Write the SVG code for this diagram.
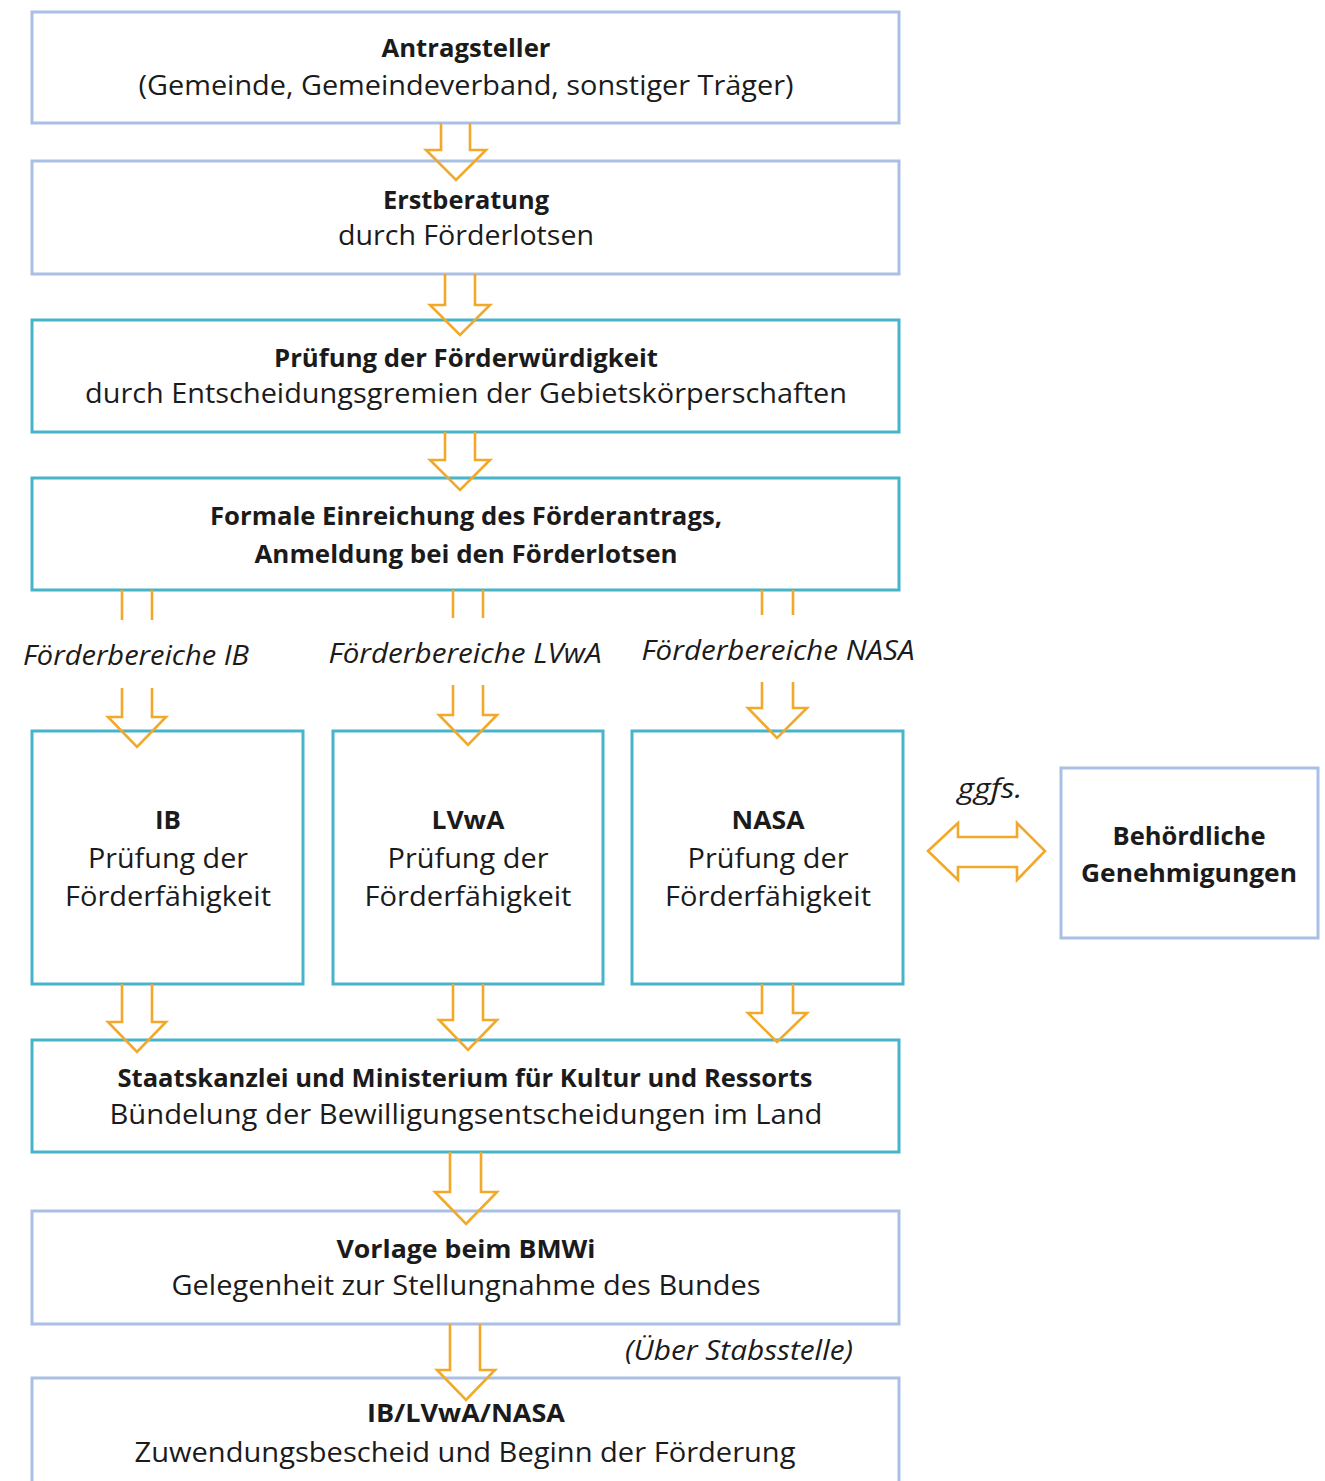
<svg xmlns="http://www.w3.org/2000/svg" width="1325" height="1481" viewBox="0 0 1325 1481">
<style>
.bl{fill:#fff;stroke:#a9c0e4;stroke-width:3}
.tl{fill:#fff;stroke:#48b4ca;stroke-width:3}
.ar{fill:none;stroke:#f2a92a;stroke-width:2.6;stroke-linejoin:miter}
text{font-family:"Open Sans","Noto Sans","Liberation Sans",sans-serif;fill:#1b1b1b;text-anchor:middle}
.b{font-weight:bold;font-size:25px}
.r{font-size:28px}
.i{font-style:italic;font-size:27px}
</style>
<rect width="1325" height="1481" fill="#fff"/>
<g id="n1"><rect class="bl" x="32" y="12" width="867" height="111"/>
<text class="b" x="466" y="57" textLength="169" lengthAdjust="spacingAndGlyphs">Antragsteller</text>
<text class="r" x="466" y="95" textLength="655" lengthAdjust="spacingAndGlyphs">(Gemeinde, Gemeindeverband, sonstiger Träger)</text></g>
<g id="n2"><rect class="bl" x="32" y="161" width="867" height="113"/>
<text class="b" x="466" y="209" textLength="166" lengthAdjust="spacingAndGlyphs">Erstberatung</text>
<text class="r" x="466" y="245" textLength="256" lengthAdjust="spacingAndGlyphs">durch Förderlotsen</text></g>
<g id="n3"><rect class="tl" x="32" y="320" width="867" height="112"/>
<text class="b" x="466" y="367" textLength="384" lengthAdjust="spacingAndGlyphs">Prüfung der Förderwürdigkeit</text>
<text class="r" x="466" y="403" textLength="762" lengthAdjust="spacingAndGlyphs">durch Entscheidungsgremien der Gebietskörperschaften</text></g>
<g id="n4"><rect class="tl" x="32" y="478" width="867" height="112"/>
<text class="b" x="466" y="525" textLength="512" lengthAdjust="spacingAndGlyphs">Formale Einreichung des Förderantrags,</text>
<text class="b" x="466" y="563" textLength="423" lengthAdjust="spacingAndGlyphs">Anmeldung bei den Förderlotsen</text></g>
<g id="labels">
<text class="i" x="136" y="665" textLength="226" lengthAdjust="spacingAndGlyphs">Förderbereiche IB</text>
<text class="i" x="465" y="663" textLength="273" lengthAdjust="spacingAndGlyphs">Förderbereiche LVwA</text>
<text class="i" x="778" y="660" textLength="273" lengthAdjust="spacingAndGlyphs">Förderbereiche NASA</text>
<text class="i" x="990" y="798" textLength="65" lengthAdjust="spacingAndGlyphs">ggfs.</text>
<text class="i" x="739" y="1360" textLength="228" lengthAdjust="spacingAndGlyphs">(Über Stabsstelle)</text>
</g>
<g id="n5"><rect class="tl" x="32" y="731" width="271" height="253"/>
<text class="b" x="168" y="829" textLength="26" lengthAdjust="spacingAndGlyphs">IB</text>
<text class="r" x="168" y="868" textLength="160" lengthAdjust="spacingAndGlyphs">Prüfung der</text>
<text class="r" x="168" y="906" textLength="206" lengthAdjust="spacingAndGlyphs">Förderfähigkeit</text></g>
<g id="n6"><rect class="tl" x="333" y="731" width="270" height="253"/>
<text class="b" x="468" y="829" textLength="73" lengthAdjust="spacingAndGlyphs">LVwA</text>
<text class="r" x="468" y="868" textLength="161" lengthAdjust="spacingAndGlyphs">Prüfung der</text>
<text class="r" x="468" y="906" textLength="207" lengthAdjust="spacingAndGlyphs">Förderfähigkeit</text></g>
<g id="n7"><rect class="tl" x="632" y="731" width="271" height="253"/>
<text class="b" x="768" y="829" textLength="73" lengthAdjust="spacingAndGlyphs">NASA</text>
<text class="r" x="768" y="868" textLength="161" lengthAdjust="spacingAndGlyphs">Prüfung der</text>
<text class="r" x="768" y="906" textLength="206" lengthAdjust="spacingAndGlyphs">Förderfähigkeit</text></g>
<g id="n8"><rect class="bl" x="1061" y="768" width="257" height="170"/>
<text class="b" x="1189" y="845" textLength="153" lengthAdjust="spacingAndGlyphs">Behördliche</text>
<text class="b" x="1189" y="882" textLength="216" lengthAdjust="spacingAndGlyphs">Genehmigungen</text></g>
<g id="n9"><rect class="tl" x="32" y="1040" width="867" height="112"/>
<text class="b" x="465" y="1087" textLength="695" lengthAdjust="spacingAndGlyphs">Staatskanzlei und Ministerium für Kultur und Ressorts</text>
<text class="r" x="466" y="1124" textLength="713" lengthAdjust="spacingAndGlyphs">Bündelung der Bewilligungsentscheidungen im Land</text></g>
<g id="n10"><rect class="bl" x="32" y="1211" width="867" height="113"/>
<text class="b" x="466" y="1258" textLength="259" lengthAdjust="spacingAndGlyphs">Vorlage beim BMWi</text>
<text class="r" x="466" y="1295" textLength="589" lengthAdjust="spacingAndGlyphs">Gelegenheit zur Stellungnahme des Bundes</text></g>
<g id="n11"><rect class="bl" x="32" y="1378" width="867" height="130"/>
<text class="b" x="466" y="1422" textLength="198" lengthAdjust="spacingAndGlyphs">IB/LVwA/NASA</text>
<text class="r" x="465" y="1462" textLength="661" lengthAdjust="spacingAndGlyphs">Zuwendungsbescheid und Beginn der Förderung</text></g>
<g id="connectors">
<path class="ar" d="M441,123 V150 H426 L456,180 L486,150 H470 V123"/>
<path class="ar" d="M445,274 V305 H430 L460,335 L490,305 H475 V274"/>
<path class="ar" d="M445,432 V460 H430 L460,490 L490,460 H475 V432"/>
<path class="ar" d="M122,590 V620 M152,590 V620"/>
<path class="ar" d="M453,590 V618 M483,590 V618"/>
<path class="ar" d="M762,590 V615 M793,590 V615"/>
<path class="ar" d="M122,688 V717 H108 L137,747 L166,717 H152 V688"/>
<path class="ar" d="M453,685 V715 H439 L468,745 L497,715 H483 V685"/>
<path class="ar" d="M762,682 V708 H748 L777,738 L807,708 H793 V682"/>
<path class="ar" d="M122,984 V1022 H108 L137,1052 L166,1022 H152 V984"/>
<path class="ar" d="M453,984 V1020 H439 L468,1050 L497,1020 H483 V984"/>
<path class="ar" d="M762,984 V1013 H748 L777,1042 L807,1013 H793 V984"/>
<path class="ar" d="M450,1152 V1192 H435 L466,1224 L497,1192 H481 V1152"/>
<path class="ar" d="M450,1324 V1370 H437 L466,1400 L495,1370 H480 V1324"/>
<path class="ar" d="M928,851 L958,823 V837 H1017 V823 L1045,851 L1017,880 V867 H958 V880 Z"/>
</g>
</svg>
